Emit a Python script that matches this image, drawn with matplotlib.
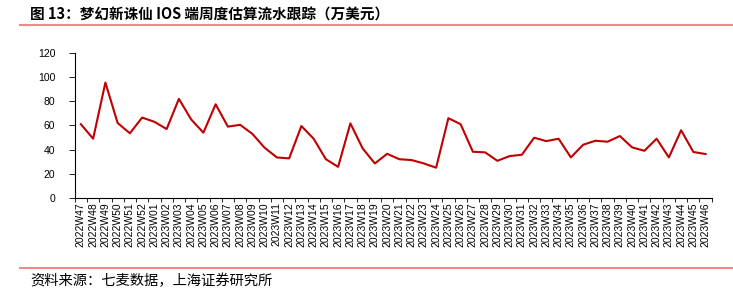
import matplotlib
matplotlib.use("Agg")
import matplotlib.pyplot as plt
from matplotlib.lines import Line2D

plt.rcParams['font.family'] = ['Liberation Sans', 'Noto Sans CJK SC', 'DejaVu Sans']

weeks = (["2022W%02d" % w for w in range(47, 53)]
         + ["2023W%02d" % w for w in range(1, 47)])

revenue = [
  61, 49, 95.5, 62, 53.5, 66.5,
  63, 57, 82, 65, 54, 77.5, 59, 60.5, 53, 41.5,
  33.5, 32.7, 59.5, 49, 32, 25.7, 61.7, 41, 28.5, 36.5,
  32, 31.3, 28.5, 25, 66, 61, 38.2, 37.7, 30.7, 34.6,
  35.7, 49.8, 47, 49, 33.5, 44, 47.3, 46.5, 51.2, 41.8,
  39, 49, 33.5, 56, 38, 36.3,
]

title = "图 13：梦幻新诛仙 IOS 端周度估算流水跟踪（万美元）"
source = "资料来源：七麦数据，上海证券研究所"

RED = "#C00000"
RULE = "#F08A8A"

fig = plt.figure(figsize=(7.33, 2.91), dpi=100)
ax = fig.add_axes([0.102, 0.320, 0.869, 0.498])

x = list(range(len(weeks)))
ax.plot(x, revenue, color=RED, linewidth=1.5)

ax.set_xlim(-0.5, len(weeks) - 0.5)
ax.set_ylim(0, 120)
ax.set_yticks(range(0, 121, 20))
ax.set_xticks(x)
ax.set_xticklabels(weeks, rotation=90, fontsize=7.5)
ax.set_xticks([i - 0.5 for i in range(len(weeks) + 1)], minor=True)
ax.tick_params(axis="x", which="major", length=0, pad=3)
ax.tick_params(axis="x", which="minor", length=3, width=0.6, direction="out")
ax.tick_params(axis="y", length=4, width=0.6, labelsize=7.5, pad=10)
for s in ("top", "right"):
  ax.spines[s].set_visible(False)
for s in ("left", "bottom"):
  ax.spines[s].set_linewidth(0.8)

# header / footer
fig.text(0.041, 0.950, title, fontsize=10.5, fontweight="bold",
         family=["Noto Sans CJK SC", "DejaVu Sans"], va="center", ha="left")
fig.add_artist(Line2D([0.027, 1.0], [0.913, 0.913], color=RULE, linewidth=1.5,
                      transform=fig.transFigure))
fig.add_artist(Line2D([0.027, 1.0], [0.079, 0.079], color=RULE, linewidth=1.5,
                      transform=fig.transFigure))
fig.text(0.041, 0.035, source, fontsize=10.3,
         family=["Noto Sans CJK SC", "DejaVu Sans"], va="center", ha="left")

fig.savefig("out.png", dpi=100)
